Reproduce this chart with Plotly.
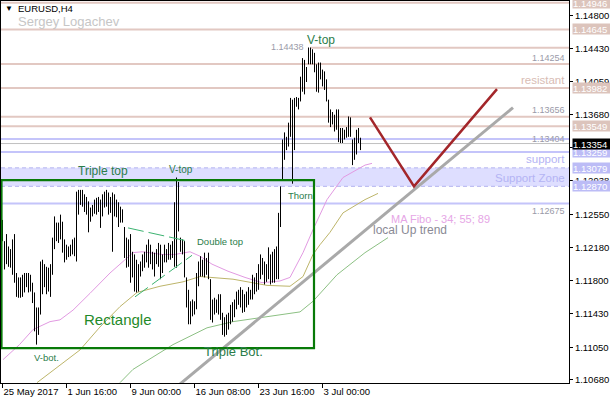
import plotly.graph_objects as go

# ---------------- data ----------------
highs = [1.1249, 1.1225, 1.1233, 1.1219, 1.1216, 1.1227, 1.1233, 1.1189, 1.1184, 1.1184,
         1.1187, 1.1189, 1.1189, 1.1189, 1.1187, 1.1178, 1.1167, 1.1150, 1.1150, 1.1202,
         1.1204, 1.1199, 1.1196, 1.1195, 1.1199, 1.1229, 1.1253, 1.1246, 1.1246, 1.1255,
         1.1247, 1.1227, 1.1221, 1.1219, 1.1221, 1.1227, 1.1229, 1.1281, 1.1283, 1.1283,
         1.1283, 1.1278, 1.1275, 1.1270, 1.1263, 1.1266, 1.1272, 1.1274, 1.1275, 1.1272,
         1.1278, 1.1281, 1.1283, 1.1280, 1.1275, 1.1280, 1.1278, 1.1272, 1.1269, 1.1264,
         1.1261, 1.1241, 1.1229, 1.1227, 1.1233, 1.1213, 1.1210, 1.1204, 1.1199, 1.1202,
         1.1210, 1.1213, 1.1221, 1.1227, 1.1221, 1.1213, 1.1212, 1.1216, 1.1223, 1.1221,
         1.1210, 1.1221, 1.1216, 1.1223, 1.1221, 1.1225, 1.1269, 1.1297, 1.1292, 1.1229,
         1.1227, 1.1225, 1.1184, 1.1170, 1.1157, 1.1159, 1.1157, 1.1189, 1.1202, 1.1208,
         1.1204, 1.1212, 1.1206, 1.1212, 1.1182, 1.1159, 1.1161, 1.1159, 1.1165, 1.1165,
         1.1144, 1.1139, 1.1142, 1.1144, 1.1153, 1.1156, 1.1159, 1.1168, 1.1170, 1.1173,
         1.1170, 1.1165, 1.1168, 1.1173, 1.1170, 1.1187, 1.1184, 1.1189, 1.1199, 1.1210,
         1.1206, 1.1202, 1.1199, 1.1218, 1.1210, 1.1213, 1.1216, 1.1219, 1.1257, 1.1287,
         1.1340, 1.1348, 1.1343, 1.1359, 1.1387, 1.1385, 1.1387, 1.1388, 1.1387, 1.1411,
         1.1432, 1.1430, 1.1422, 1.1444, 1.1444, 1.1442, 1.1438, 1.1425, 1.1427, 1.1427,
         1.1419, 1.1417, 1.1408, 1.1385, 1.1374, 1.1371, 1.1368, 1.1374, 1.1374, 1.1353,
         1.1353, 1.1351, 1.1354, 1.1366, 1.1365, 1.1340, 1.1342, 1.1351, 1.1353, 1.1342]
lows = [1.1225, 1.1193, 1.1199, 1.1196, 1.1195, 1.1187, 1.1178, 1.1162, 1.1161, 1.1161,
        1.1162, 1.1167, 1.1173, 1.1167, 1.1168, 1.1155, 1.1123, 1.1108, 1.1119, 1.1142,
        1.1165, 1.1173, 1.1165, 1.1168, 1.1162, 1.1187, 1.1216, 1.1225, 1.1223, 1.1227,
        1.1212, 1.1201, 1.1204, 1.1207, 1.1208, 1.1210, 1.1208, 1.1202, 1.1255, 1.1266,
        1.1264, 1.1258, 1.1255, 1.1235, 1.1247, 1.1253, 1.1256, 1.1255, 1.1258, 1.1240,
        1.1253, 1.1263, 1.1264, 1.1255, 1.1257, 1.1213, 1.1253, 1.1252, 1.1241, 1.1246,
        1.1246, 1.1206, 1.1195, 1.1196, 1.1178, 1.1184, 1.1168, 1.1167, 1.1168, 1.1185,
        1.1191, 1.1195, 1.1201, 1.1195, 1.1199, 1.1193, 1.1185, 1.1199, 1.1196, 1.1182,
        1.1189, 1.1201, 1.1201, 1.1204, 1.1204, 1.1206, 1.1196, 1.1195, 1.1236, 1.1213,
        1.1210, 1.1184, 1.1150, 1.1131, 1.1131, 1.1140, 1.1142, 1.1148, 1.1174, 1.1185,
        1.1185, 1.1184, 1.1187, 1.1182, 1.1136, 1.1133, 1.1142, 1.1144, 1.1142, 1.1136,
        1.1119, 1.1117, 1.1119, 1.1125, 1.1131, 1.1134, 1.1139, 1.1148, 1.1153, 1.1150,
        1.1144, 1.1145, 1.1150, 1.1153, 1.1159, 1.1159, 1.1165, 1.1168, 1.1170, 1.1182,
        1.1187, 1.1176, 1.1179, 1.1182, 1.1176, 1.1178, 1.1178, 1.1182, 1.1182, 1.1241,
        1.1295, 1.1317, 1.1328, 1.1332, 1.1343, 1.1290, 1.1328, 1.1377, 1.1374, 1.1383,
        1.1394, 1.1391, 1.1405, 1.1425, 1.1425, 1.1425, 1.1416, 1.1394, 1.1393, 1.1408,
        1.1400, 1.1396, 1.1383, 1.1359, 1.1354, 1.1357, 1.1349, 1.1351, 1.1337, 1.1336,
        1.1336, 1.1340, 1.1342, 1.1343, 1.1343, 1.1311, 1.1317, 1.1323, 1.1336, 1.1328]

date_tick_idx = [0, 32, 64, 96, 128, 160]
date_tick_txt = ["25 May 2017", "1 Jun 16:00", "9 Jun 00:00", "16 Jun 08:00", "23 Jun 16:00", "3 Jul 00:00"]
price_ticks = [1.14800, 1.14430, 1.14059, 1.13680, 1.13308, 1.12938,
               1.12550, 1.12180, 1.11800, 1.11430, 1.11050, 1.10680]

# moving averages (MA Fibo 34 / 55 / 89)
ma34_idx = [0.25, 8.5, 15.25, 23.75, 28.75, 35.25, 43.75, 53.75, 65.25, 69.75, 79.75, 86.25, 93.75,
            98.75, 104.75, 112.75, 121.25, 129.75, 138.75, 143.75, 150.25, 155.25, 162.25, 170.25, 181.25, 184.75]
ma34_val = [1.1091, 1.1108, 1.1125, 1.1134, 1.1136, 1.1147, 1.1166, 1.1189, 1.1212, 1.1213, 1.1210, 1.1210, 1.1213,
            1.1208, 1.1199, 1.1191, 1.1184, 1.1178, 1.1180, 1.1184, 1.1212, 1.1238, 1.1272, 1.1297, 1.1311, 1.1313]
ma55_idx = [17.25, 27.25, 38.75, 48.75, 58.75, 67.25, 78.75, 90.25, 98.75, 115.25, 132.25, 143.75,
            150.25, 155.25, 158.75, 163.75, 170.25, 181.25, 187.75]
ma55_val = [1.1065, 1.1082, 1.1102, 1.1128, 1.1151, 1.1167, 1.1174, 1.1179, 1.1185, 1.1182, 1.1175, 1.1174,
            1.1185, 1.1210, 1.1221, 1.1235, 1.1257, 1.1272, 1.1279]
ma89_idx = [58.75, 65.25, 85.25, 102.25, 115.25, 133.75, 148.75, 155.25, 167.25, 181.25, 192.75]
ma89_val = [1.1065, 1.1080, 1.1108, 1.1127, 1.1134, 1.1140, 1.1145, 1.1157, 1.1187, 1.1212, 1.1229]

# drawn objects
resistance_levels = [1.14946, 1.14645, 1.14254, 1.13982, 1.13656, 1.13549]
support_levels = [1.13404, 1.13259, 1.12675]
zone_low, zone_high = 1.12870, 1.13079
current_price = 1.13354
vtop_price, vtop_idx = 1.14438, 154
rect_idx = [-0.5, 155.75]
rect_price = [1.1104, 1.1294]
dtop_upper_idx, dtop_upper_val = [62.75, 92.75], [1.1240, 1.1225]
dtop_lower_idx, dtop_lower_val = [66.25, 94.75], [1.1162, 1.1209]
trend_idx, trend_val = [83.75, 255.25], [1.1054, 1.1376]
forecast_idx, forecast_val = [183.75, 205.75, 247.25], [1.1365, 1.1287, 1.1397]

pink_boxes = [1.14946, 1.14645, 1.13982, 1.13549]
blue_boxes = [1.13259, 1.13079, 1.12870]

# ---------------- figure ----------------
W, H = 610, 400
L, R, T, B = 1, 41, 1, 17
PW, PH = W - L - R, H - T - B
FONT = "Liberation Sans"
PINK = "#e2c8c2"
LAV = "#c4c4fa"
TXT_GREEN = "#2b7d4a"


def px(x):
    return (x - L) / PW


def py(y):
    return (H - B - y) / PH


fig = go.Figure()

# MAs
fig.add_trace(go.Scatter(x=ma89_idx, y=ma89_val, mode="lines", line=dict(color="#8cc083", width=1)))
fig.add_trace(go.Scatter(x=ma55_idx, y=ma55_val, mode="lines", line=dict(color="#bdb56a", width=1)))
fig.add_trace(go.Scatter(x=ma34_idx, y=ma34_val, mode="lines", line=dict(color="#e29ae2", width=1)))

# price bars
bx, by = [], []
for i, (h, l) in enumerate(zip(highs, lows)):
    bx += [i, i, None]
    by += [l, h, None]
fig.add_trace(go.Scatter(x=bx, y=by, mode="lines", line=dict(color="black", width=1)))

# double-top dashed lines
for xi, yv in [(dtop_upper_idx, dtop_upper_val), (dtop_lower_idx, dtop_lower_val)]:
    fig.add_trace(go.Scatter(x=xi, y=yv, mode="lines",
                             line=dict(color="#3cb371", width=1, dash="16px,5px")))

# local up trend
fig.add_trace(go.Scatter(x=trend_idx, y=trend_val, mode="lines", line=dict(color="#a9a9a9", width=3)))
# forecast V
fig.add_trace(go.Scatter(x=forecast_idx, y=forecast_val, mode="lines", line=dict(color="#a3262a", width=2.5)))

shapes = []
shapes.append(dict(type="rect", xref="paper", x0=0, x1=1, yref="y", y0=zone_low, y1=zone_high,
                   fillcolor="#dedeff", line=dict(width=0), layer="below"))
for lv in (zone_low, zone_high):
    shapes.append(dict(type="line", xref="paper", x0=0, x1=1, yref="y", y0=lv, y1=lv,
                       line=dict(color="#b4b4f0", width=1, dash="4px,3px"), layer="below"))
for lv in resistance_levels:
    shapes.append(dict(type="line", xref="paper", x0=0, x1=1, yref="y", y0=lv, y1=lv,
                       line=dict(color=PINK, width=2), layer="below"))
shapes.append(dict(type="line", xref="x", x0=vtop_idx, x1=283.25, yref="y", y0=vtop_price, y1=vtop_price,
                   line=dict(color=PINK, width=2), layer="below"))
for lv in support_levels:
    shapes.append(dict(type="line", xref="paper", x0=0, x1=1, yref="y", y0=lv, y1=lv,
                       line=dict(color=LAV, width=2), layer="below"))
shapes.append(dict(type="line", xref="paper", x0=0, x1=1, yref="y", y0=current_price, y1=current_price,
                   line=dict(color="#c0c0c0", width=1), layer="below"))
shapes.append(dict(type="rect", xref="x", x0=rect_idx[0], x1=rect_idx[1], yref="y",
                   y0=rect_price[0], y1=rect_price[1], line=dict(color="#087a08", width=2.2)))

ann = []


def text(t, x, y, size, color, anchor="left", family=FONT):
    ann.append(dict(text=t, xref="paper", yref="paper", x=px(x), y=py(y), xanchor=anchor,
                    yanchor="middle", showarrow=False, font=dict(family=family, size=size, color=color)))


text("▼", 3, 8, 8, "black")
text("EURUSD,H4", 16, 8, 9.5, "black")
text("Sergey Logachev", 16, 21, 13, "#c6c6c6")
text("V-top", 305, 40, 12, TXT_GREEN)
text("1.14438", 269, 47, 9, "#9a9aa8")
text("Triple top", 76, 171, 12, TXT_GREEN)
text("V-top", 167, 169, 10, TXT_GREEN)
text("Double top", 195, 241, 9.5, TXT_GREEN)
text("Thorn", 286, 195, 9.5, TXT_GREEN)
text("Rectangle", 82, 319, 15, "#1f8a2a")
text("V-bot.", 32, 357, 9.5, TXT_GREEN)
text("Triple Bot.", 202, 351, 13, TXT_GREEN)
text("MA Fibo - 34; 55; 89", 389, 219, 11, "#e6a6e6")
text("local Up trend", 371, 230, 12, "#8a8a95")
text("1.14254", 567, 58, 9, "#9a9aa8", "right")
text("resistant", 567, 80, 11.5, "#d8bcb4", "right")
text("1.13656", 567, 110, 9, "#9a9aa8", "right")
text("1.13404", 567, 139, 9, "#9a9aa8", "right")
text("support", 567, 159, 11.5, "#b4b4f4", "right")
text("Support Zone", 567, 178, 11.5, "#b4b4f4", "right")
text("1.12675", 567, 211, 9, "#9a9aa8", "right")

# price boxes in the right scale
for lv, bg in [(v, "#dcc4bc") for v in pink_boxes] + [(v, "#bcbcf6") for v in blue_boxes] + [(current_price, "black")]:
    ann.append(dict(text=f"{lv:.5f}", xref="paper", yref="y", x=px(572), y=lv, xanchor="left",
                    yanchor="middle", showarrow=False, bgcolor=bg, borderpad=0, width=38, height=10,
                    align="left", font=dict(family=FONT, size=9.5, color="white")))

fig.update_layout(
    width=W, height=H, margin=dict(l=L, r=R, t=T, b=B, autoexpand=False),
    paper_bgcolor="white", plot_bgcolor="white", showlegend=False,
    shapes=shapes, annotations=ann,
    xaxis=dict(range=[-0.75, 283.25], showgrid=False, zeroline=False, showline=True, mirror=True,
               linecolor="black", linewidth=1, ticks="outside", ticklen=4, tickcolor="black",
               tickvals=date_tick_idx, ticktext=date_tick_txt, ticklabelposition="outside right",
               tickfont=dict(family=FONT, size=9.5, color="black")),
    yaxis=dict(range=[1.10646, 1.14966], side="right", showgrid=False, zeroline=False, showline=True,
               mirror=True, linecolor="black", linewidth=1, ticks="outside", ticklen=3, tickcolor="black",
               tickvals=price_ticks, ticktext=[f"{v:.5f}" for v in price_ticks],
               tickfont=dict(family=FONT, size=9.5, color="black")),
)

fig.write_html("out.html", config={"displayModeBar": False},
               post_script="document.body.style.margin='0';document.body.style.overflow='hidden';")
